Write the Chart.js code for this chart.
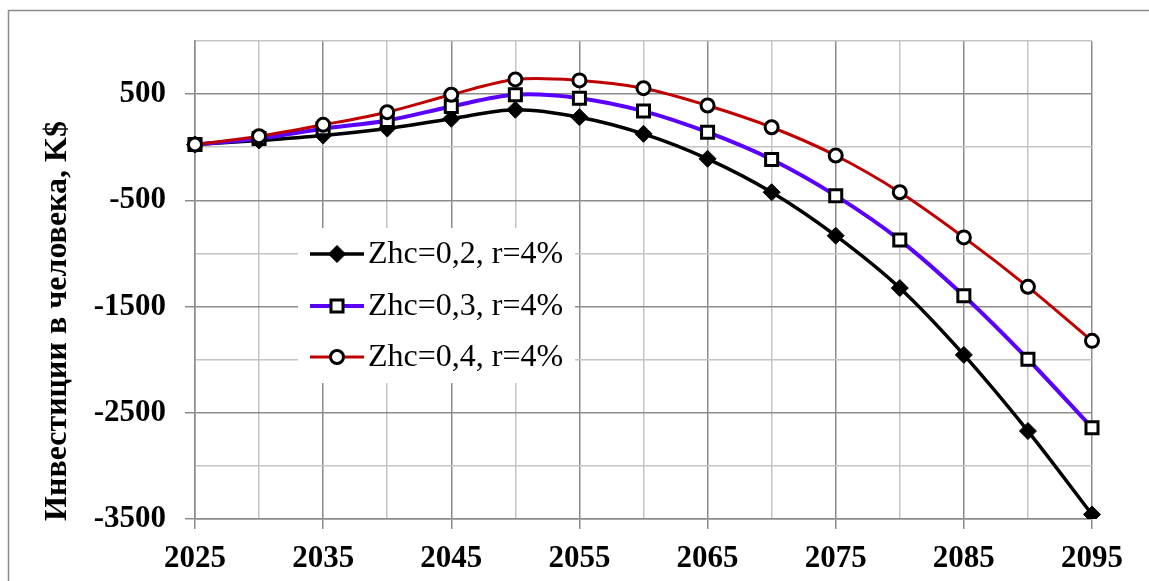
<!DOCTYPE html>
<html>
<head>
<meta charset="utf-8">
<script src="https://cdn.jsdelivr.net/npm/chart.js@4"></script>
<style>
  html, body { margin: 0; padding: 0; background: #fff; overflow: hidden; }
  #myChart { display: block; }
</style>
</head>
<body>
<canvas id="myChart" width="1149" height="581"></canvas>
<script>
// years on the x axis (every 5 years)
const years = [2025, 2030, 2035, 2040, 2045, 2050, 2055, 2060, 2065, 2070, 2075, 2080, 2085, 2090, 2095];

// series values, K$
const zhc02 = [25, 63, 110, 176, 268, 353, 283, 126, -109, -424, -833, -1326, -1955, -2672, -3457];
const zhc03 = [25, 82, 174, 252, 384, 494, 462, 340, 141, -116, -456, -874, -1399, -1996, -2641];
const zhc04 = [25, 104, 211, 330, 494, 638, 629, 556, 393, 188, -78, -424, -849, -1314, -1823];

const seriesNames = ['Zhc=0,2, r=4%', 'Zhc=0,3, r=4%', 'Zhc=0,4, r=4%'];

// labelled ticks
const xTickLabels = [2025, 2035, 2045, 2055, 2065, 2075, 2085, 2095];
const yTickLabels = [500, -500, -1500, -2500, -3500];

const yTitle = 'Инвестиции в человека, K$';
const FONT = "'Liberation Serif', 'Times New Roman', serif";

/**
 * draws the outer frame, the y title and the legend box
 */
const extrasPlugin = {
    id: 'extras',
    beforeDraw(chart) {
        const ctx = chart.ctx;
        ctx.save();
        ctx.fillStyle = '#fff';
        ctx.fillRect(0, 0, chart.width, chart.height);
        ctx.strokeStyle = '#8c8c8c';
        ctx.lineWidth = 1.5;
        ctx.strokeRect(8.5, 10.5, 1160, 620);
        ctx.restore();
    },
    afterDraw(chart) {
        const ctx = chart.ctx;
        ctx.save();
        // y title
        ctx.translate(58, 321);
        ctx.rotate(-Math.PI / 2);
        ctx.font = 'bold 32px ' + FONT;
        ctx.fillStyle = '#000';
        ctx.textAlign = 'center';
        ctx.textBaseline = 'middle';
        ctx.fillText(yTitle, 0, 0);
        ctx.restore();

        // legend
        ctx.save();
        ctx.fillStyle = '#fff';
        ctx.fillRect(298, 228, 277, 155);
        const rows = [254, 306, 357];
        chart.data.datasets.forEach((ds, i) => {
            const y = rows[i];
            ctx.strokeStyle = ds.borderColor;
            ctx.lineWidth = ds.borderWidth;
            ctx.beginPath();
            ctx.moveTo(310, y);
            ctx.lineTo(364, y);
            ctx.stroke();
            drawMarker(ctx, ds, 337, y);
            ctx.fillStyle = '#000';
            ctx.font = '32px ' + FONT;
            ctx.textAlign = 'left';
            ctx.textBaseline = 'middle';
            ctx.fillText(ds.label, 368, y + 1);
        });
        ctx.restore();
    }
};

function drawMarker(ctx, ds, x, y) {
    const r = ds.pointRadius;
    ctx.fillStyle = ds.pointBackgroundColor;
    ctx.strokeStyle = ds.pointBorderColor;
    ctx.lineWidth = ds.pointBorderWidth;
    ctx.beginPath();
    if (ds.pointStyle === 'rectRot') {
        ctx.moveTo(x, y - r);
        ctx.lineTo(x + r, y);
        ctx.lineTo(x, y + r);
        ctx.lineTo(x - r, y);
        ctx.closePath();
    } else if (ds.pointStyle === 'rect') {
        const s = r * Math.SQRT1_2;
        ctx.rect(x - s, y - s, 2 * s, 2 * s);
    } else {
        ctx.arc(x, y, r, 0, Math.PI * 2);
    }
    ctx.fill();
    ctx.stroke();
}

function makeDataset(name, values, color, width, style, radius, fill, order) {
    return {
        label: name,
        data: values,
        borderColor: color,
        borderWidth: width,
        tension: 0.33,
        pointStyle: style,
        pointRadius: radius,
        pointHoverRadius: radius,
        pointBackgroundColor: fill,
        pointBorderColor: '#000',
        pointBorderWidth: 3,
        order: order
    };
}

function drawChart() {
    const ctx = document.getElementById('myChart').getContext('2d');
    new Chart(ctx, {
        type: 'line',
        data: {
            labels: years,
            datasets: [
                Object.assign(makeDataset(seriesNames[0], zhc02, '#000000', 3.5, 'rectRot', 8.5, '#000', 3), { pointBorderWidth: 1 }),
                makeDataset(seriesNames[1], zhc03, '#5a00ff', 4, 'rect', 8.5, '#fff', 2),
                makeDataset(seriesNames[2], zhc04, '#c00000', 3, 'circle', 6.5, '#fff', 1)
            ]
        },
        options: {
            responsive: false,
            animation: false,
            layout: { padding: { top: 41, right: 57, bottom: 0, left: 0 } },
            plugins: { legend: { display: false }, tooltip: { enabled: false } },
            scales: {
                x: {
                    offset: false,
                    afterFit: (scale) => { scale.height = 62; },
                    border: { color: '#8c8c8c', width: 1.5 },
                    grid: {
                        lineWidth: 1.5,
                        tickLength: 10,
                        color: (c) => xTickLabels.includes(years[c.index]) ? '#8c8c8c' : '#c4c4c4',
                        tickColor: (c) => xTickLabels.includes(years[c.index]) ? '#8c8c8c' : 'rgba(0,0,0,0)'
                    },
                    ticks: {
                        autoSkip: false,
                        maxRotation: 0,
                        padding: 11,
                        color: '#000',
                        font: { family: FONT, size: 31, weight: 'bold' },
                        callback: (v, i) => xTickLabels.includes(years[i]) ? String(years[i]) : ''
                    }
                },
                y: {
                    min: -3500,
                    max: 1000,
                    afterFit: (scale) => { scale.width = 195; },
                    border: { color: '#8c8c8c', width: 1.5 },
                    grid: {
                        lineWidth: 1.5,
                        tickLength: 10,
                        color: (c) => yTickLabels.includes(c.tick.value) ? '#8c8c8c' : '#c4c4c4',
                        tickColor: (c) => yTickLabels.includes(c.tick.value) ? '#8c8c8c' : 'rgba(0,0,0,0)'
                    },
                    ticks: {
                        stepSize: 500,
                        padding: 19,
                        color: '#000',
                        font: { family: FONT, size: 31, weight: 'bold' },
                        callback: (v) => yTickLabels.includes(v) ? String(v) : ''
                    }
                }
            }
        },
        plugins: [extrasPlugin]
    });
}

drawChart();
</script>
</body>
</html>
